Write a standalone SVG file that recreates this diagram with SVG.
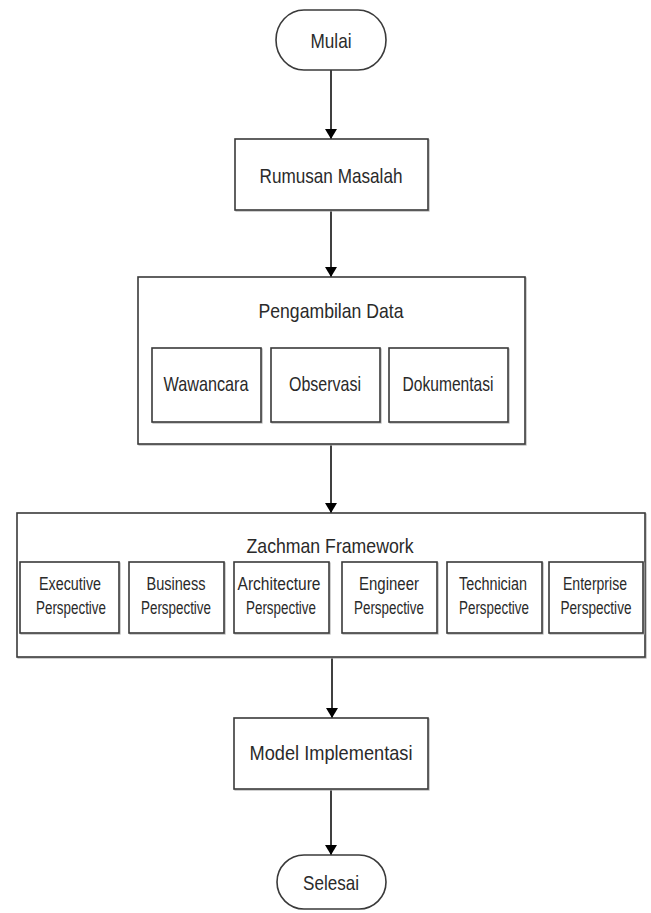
<svg xmlns="http://www.w3.org/2000/svg" width="651" height="913" viewBox="0 0 651 913">
<style>
.box{fill:#ffffff;stroke:#3a3a3a;stroke-width:1.6}
.sh{fill:none;stroke:#b0b0b0;stroke-width:1.2}
.t{font-family:"Liberation Sans",Arial,sans-serif;font-size:21px;fill:#2a2a2a;text-anchor:middle}
.s{font-family:"Liberation Sans",Arial,sans-serif;font-size:17.5px;fill:#2a2a2a;text-anchor:middle}
.c{stroke:#000;stroke-width:1.5;fill:none;marker-end:url(#arr)}
</style>
<defs>
<marker id="arr" viewBox="0 0 10 12" refX="10" refY="6" markerWidth="10" markerHeight="12" markerUnits="userSpaceOnUse" orient="auto">
<path d="M0,0 L10,6 L0,12 Z" fill="#000"/>
</marker>
</defs>
<rect width="651" height="913" fill="#ffffff"/>

<g id="connectors">
<line class="c" x1="331" y1="70" x2="331" y2="139"/>
<line class="c" x1="331" y1="211" x2="331" y2="277"/>
<line class="c" x1="331" y1="445" x2="331" y2="513"/>
<line class="c" x1="332" y1="658" x2="332" y2="718"/>
<line class="c" x1="331" y1="790" x2="331" y2="855"/>
</g>

<g id="mulai">
<rect class="box" x="276" y="10" width="110" height="60" rx="28" ry="30"/>
<text class="t" x="331" y="48" textLength="41" lengthAdjust="spacingAndGlyphs">Mulai</text>
</g>

<g id="rumusan">
<rect class="sh" x="236" y="140" width="193" height="71"/>
<rect class="box" x="235" y="139" width="193" height="71"/>
<text class="t" x="331" y="183" textLength="143" lengthAdjust="spacingAndGlyphs">Rumusan Masalah</text>
</g>

<g id="pengambilan">
<rect class="sh" x="139" y="278" width="387" height="167"/>
<rect class="box" x="138" y="277" width="387" height="167"/>
<text class="t" x="331" y="318" textLength="145" lengthAdjust="spacingAndGlyphs">Pengambilan Data</text>
</g>
<g id="wawancara">
<rect class="sh" x="153" y="349" width="109" height="74"/>
<rect class="box" x="152" y="348" width="109" height="74"/>
<text class="t" x="206" y="391" textLength="85" lengthAdjust="spacingAndGlyphs">Wawancara</text>
</g>
<g id="observasi">
<rect class="sh" x="272" y="349" width="109" height="74"/>
<rect class="box" x="271" y="348" width="109" height="74"/>
<text class="t" x="325" y="391" textLength="72" lengthAdjust="spacingAndGlyphs">Observasi</text>
</g>
<g id="dokumentasi">
<rect class="sh" x="390" y="349" width="119" height="74"/>
<rect class="box" x="389" y="348" width="119" height="74"/>
<text class="t" x="448" y="391" textLength="91" lengthAdjust="spacingAndGlyphs">Dokumentasi</text>
</g>

<g id="zachman">
<rect class="sh" x="18" y="514" width="628" height="144"/>
<rect class="box" x="17" y="513" width="628" height="144"/>
<text class="t" x="330" y="553" textLength="167" lengthAdjust="spacingAndGlyphs">Zachman Framework</text>
</g>
<g id="executive">
<rect class="sh" x="21" y="563" width="99" height="71"/>
<rect class="box" x="20" y="562" width="99" height="71"/>
<text class="s" x="70" y="590" textLength="62" lengthAdjust="spacingAndGlyphs">Executive</text>
<text class="s" x="71" y="614" textLength="70" lengthAdjust="spacingAndGlyphs">Perspective</text>
</g>
<g id="business">
<rect class="sh" x="130" y="563" width="95" height="71"/>
<rect class="box" x="129" y="562" width="95" height="71"/>
<text class="s" x="176" y="590" textLength="59" lengthAdjust="spacingAndGlyphs">Business</text>
<text class="s" x="176" y="614" textLength="70" lengthAdjust="spacingAndGlyphs">Perspective</text>
</g>
<g id="architecture">
<rect class="sh" x="235" y="563" width="95" height="71"/>
<rect class="box" x="234" y="562" width="95" height="71"/>
<text class="s" x="279" y="590" textLength="83" lengthAdjust="spacingAndGlyphs">Architecture</text>
<text class="s" x="281" y="614" textLength="70" lengthAdjust="spacingAndGlyphs">Perspective</text>
</g>
<g id="engineer">
<rect class="sh" x="343" y="563" width="95" height="71"/>
<rect class="box" x="342" y="562" width="95" height="71"/>
<text class="s" x="389" y="590" textLength="60" lengthAdjust="spacingAndGlyphs">Engineer</text>
<text class="s" x="389" y="614" textLength="70" lengthAdjust="spacingAndGlyphs">Perspective</text>
</g>
<g id="technician">
<rect class="sh" x="448" y="563" width="95" height="71"/>
<rect class="box" x="447" y="562" width="95" height="71"/>
<text class="s" x="493" y="590" textLength="68" lengthAdjust="spacingAndGlyphs">Technician</text>
<text class="s" x="494" y="614" textLength="70" lengthAdjust="spacingAndGlyphs">Perspective</text>
</g>
<g id="enterprise">
<rect class="sh" x="550" y="563" width="94" height="71"/>
<rect class="box" x="549" y="562" width="94" height="71"/>
<text class="s" x="595" y="590" textLength="64" lengthAdjust="spacingAndGlyphs">Enterprise</text>
<text class="s" x="596" y="614" textLength="71" lengthAdjust="spacingAndGlyphs">Perspective</text>
</g>

<g id="model">
<rect class="sh" x="235" y="719" width="194" height="71"/>
<rect class="box" x="234" y="718" width="194" height="71"/>
<text class="t" x="331" y="760" textLength="163" lengthAdjust="spacingAndGlyphs">Model Implementasi</text>
</g>

<g id="selesai">
<rect class="box" x="277" y="855" width="109" height="54" rx="27" ry="27"/>
<text class="t" x="331" y="890" textLength="56" lengthAdjust="spacingAndGlyphs">Selesai</text>
</g>
</svg>
